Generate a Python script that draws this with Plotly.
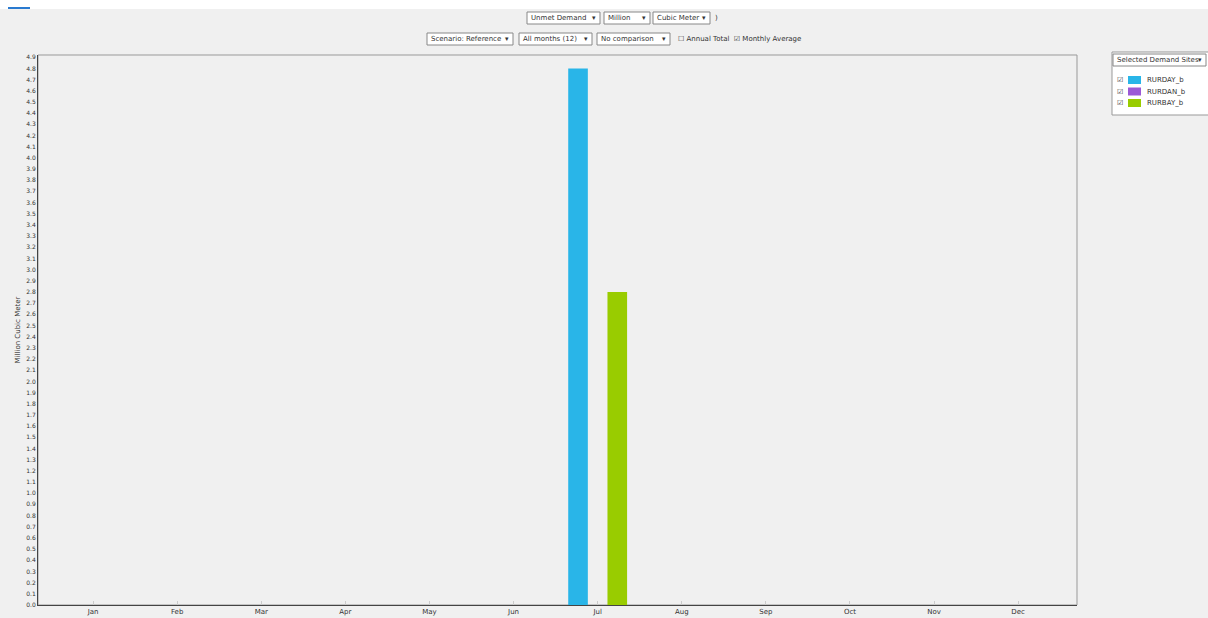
import plotly.graph_objects as go

months = ["Jan", "Feb", "Mar", "Apr", "May", "Jun", "Jul", "Aug", "Sep", "Oct", "Nov", "Dec"]
series_names = ["RURDAY_b", "RURDAN_b", "RURBAY_b"]
series_colors = ["#29b5e8", "#9b59d6", "#99cc00"]
values_a = [0, 0, 0, 0, 0, 0, 4.80, 0, 0, 0, 0, 0]
values_b = [0, 0, 0, 0, 0, 0, 0, 0, 0, 0, 0, 0]
values_c = [0, 0, 0, 0, 0, 0, 2.80, 0, 0, 0, 0, 0]
y_ticks = [round(i * 0.1, 1) for i in range(50)]

W, H = 1208, 618
L, R, T, B = 38, 1077, 55, 605

def px(x):
    return (x - L) / (R - L)

def py(y):
    return (B - y) / (B - T)

fig = go.Figure()
for name, color, vals in zip(series_names, series_colors, [values_a, values_b, values_c]):
    fig.add_trace(go.Bar(x=list(range(len(months))), y=vals, name=name,
                         marker=dict(color=color, line=dict(width=0))))

font = "DejaVu Sans"
fig.update_layout(
    width=W, height=H,
    margin=dict(l=L, r=W - R, t=T, b=H - B, autoexpand=False),
    paper_bgcolor="#f0f0f0", plot_bgcolor="#f0f0f0",
    barmode="group", bargap=0.30, bargroupgap=0,
    font=dict(family=font, size=7, color="#333"),
    showlegend=False,
    xaxis=dict(tickmode="array", tickvals=list(range(12)), ticktext=months,
               range=[-0.655, 11.70], showgrid=False, zeroline=False,
               showline=True, linecolor="#444", linewidth=1, automargin=False,
               ticks="inside", ticklen=4, tickcolor="#ccc",
               tickfont=dict(size=7, color="#333")),
    yaxis=dict(tickmode="array", tickvals=y_ticks,
               ticktext=[f"{v:.1f}" for v in y_ticks],
               range=[0, 4.92], showgrid=False, zeroline=False,
               showline=True, linecolor="#444", linewidth=1, automargin=False,
               ticks="", tickfont=dict(size=6, color="#333"),
               title=dict(text="Million Cubic Meter", font=dict(size=7, color="#333"), standoff=4)),
)

# frame top/right
fig.add_shape(type="rect", xref="paper", yref="paper", x0=0, x1=1, y0=0, y1=1,
              line=dict(color="#999", width=1), layer="below")
# top white strip + accent
fig.add_shape(type="rect", xref="paper", yref="paper", x0=px(0), x1=px(W), y0=py(0), y1=py(9),
              fillcolor="#ffffff", line=dict(width=0), layer="below")
fig.add_shape(type="line", xref="paper", yref="paper", x0=px(8), x1=px(30), y0=py(8), y1=py(8),
              line=dict(color="#2a7ad0", width=2))

def text_at(text, x, y, anchor="left"):
    fig.add_annotation(xref="paper", yref="paper", x=px(x), y=py(y), xanchor=anchor,
                       yanchor="middle", text=text, showarrow=False,
                       font=dict(size=7, color="#333"))

def box(text, x0, x1, y, bg="#ffffff"):
    fig.add_shape(type="rect", xref="paper", yref="paper", x0=px(x0), x1=px(x1),
                  y0=py(y + 6), y1=py(y - 6), fillcolor=bg, line=dict(color="#888", width=1))
    text_at(text, x0 + 2, y, "left")
    text_at("▾", x1 - 2, y, "right")

box("Unmet Demand", 527, 600, 18)
box("Million", 604, 650, 18)
box("Cubic Meter", 653, 710, 18)
text_at(")", 713, 18)
box("Scenario: Reference", 427, 513, 39)
box("All months (12)", 519, 592, 39)
box("No comparison", 597, 670, 39)
text_at("☐ Annual Total  ☑ Monthly Average", 676, 39)

# legend panel (drawn manually from the series lists)
fig.add_shape(type="rect", xref="paper", yref="paper", x0=px(1112), x1=px(1212), y0=py(115), y1=py(52),
              fillcolor="#ffffff", line=dict(color="#999", width=1), layer="below")
box("Selected Demand Sites", 1113, 1206, 60)
for i, (name, color) in enumerate(zip(series_names, series_colors)):
    yc = 80 + i * 11.5
    text_at("☑", 1120, yc, "center")
    fig.add_shape(type="rect", xref="paper", yref="paper", x0=px(1128), x1=px(1141),
                  y0=py(yc + 4), y1=py(yc - 4), fillcolor=color, line=dict(width=0))
    text_at(name, 1145, yc, "left")

fig.write_html("out.html", config={"displayModeBar": False},
               post_script="document.body.style.margin='0';")
